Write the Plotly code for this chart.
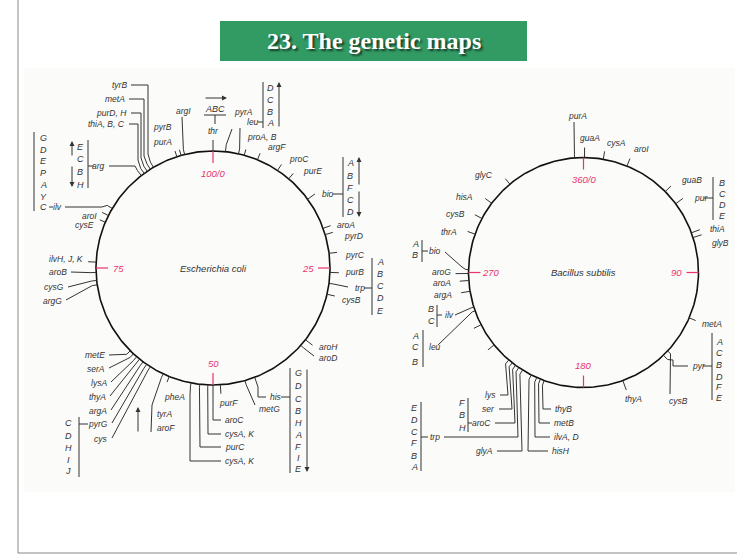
import numpy as np
import plotly.graph_objects as go

# ---------------- DATA ----------------
ECOLI_GENES = ["thr", "pyrA", "leu", "proA, B", "argF", "proC", "purE", "bio", "aroA", "pyrD",
               "pyrC", "purB", "trp", "cysB", "aroH", "aroD", "his", "metG", "purF", "aroC",
               "cysA, K", "purC", "cysA, K", "pheA", "tyrA", "aroF", "cys", "pyrG", "argA", "thyA",
               "lysA", "serA", "metE", "argG", "cysG", "aroB", "ilvH, J, K", "cysE", "aroI", "ilv",
               "arg", "thiA, B, C", "purD, H", "metA", "tyrB", "purA", "pyrB", "argI"]
ECOLI_MIN = [0.0, 1.7, 3.5, 4.3, 6.2, 9.3, 11.2, 15.0, 19.5, 20.4,
             23.0, 25.6, 27.1, 28.6, 35.5, 36.5, 44.2, 45.6, 49.0, 50.0,
             50.7, 51.8, 53.0, 56.1, 57.0, 57.3, 59.0, 59.6, 60.2, 60.8,
             61.3, 61.9, 62.5, 72.7, 73.3, 74.4, 75.8, 81.4, 82.4, 83.5,
             89.5, 90.0, 90.5, 91.0, 91.5, 95.0, 95.6, 96.1]
ECOLI_SCALE = [0, 25, 50, 75]
ECOLI_SCALE_LABELS = ["100/0", "25", "50", "75"]

BSU_GENES = ["purA", "guaA", "cysA", "aroI", "guaB", "pur", "thiA", "glyB", "metA", "cysB",
             "pyr", "thyA", "thyB", "metB", "ilvA, D", "hisH", "glyA", "trp", "aroC", "ser",
             "lys", "leu", "ilv", "argA", "aroA", "aroG", "bio", "thrA", "cysB", "hisA", "glyC"]
BSU_DEG = [355.6, 0.5, 9.9, 22.2, 45.3, 53.3, 69.8, 72.3, 113.2, 133.0,
           136.0, 160.0, 200.0, 202.0, 204.0, 207.0, 212.0, 214.2, 216.2, 218.3,
           220.5, 250.5, 252.5, 260.6, 266.0, 269.5, 271.5, 289.5, 298.0, 307.0, 320.2]
BSU_UNLABELED = [231.0, 243.0]
BSU_SCALE = [0, 90, 180, 270]
BSU_SCALE_LABELS = ["360/0", "90", "180", "270"]

# operon gene letters
EC_OPERON_LETTERS = {
    "thr": ["ABC"],
    "leu": ["D", "C", "B", "A"],
    "bio": ["A", "B", "F", "C", "D"],
    "trp": ["A", "B", "C", "D", "E"],
    "his": ["G", "D", "C", "B", "H", "A", "F", "I", "E"],
    "pyrG": ["C", "D", "H", "I", "J"],
    "arg": ["E", "C", "B", "H"],
    "ilv": ["G", "D", "E", "P", "A", "Y", "C"],
}
BS_OPERON_LETTERS = {
    "pur": ["B", "C", "D", "E"],
    "pyr": ["A", "C", "B", "D", "F", "E"],
    "bio": ["A", "B"],
    "ilv": ["B", "C"],
    "leu": ["A", "C", "B"],
    "aroC": ["F", "B", "H"],
    "trp": ["E", "D", "C", "F", "B", "A"],
}

TITLE = "23. The genetic maps"

# ---------------- LAYOUT (figure pixel placement) ----------------
EC_C = (213.0, 268.0, 117.0)
BS_C = (583.5, 272.5, 115.0)

# (tick length, label x, label y, anchor, leader points)
EC_LAY = [
    (11, 213, 131, "c", []),
    (7, 243, 112, "c", [(232, 129)]),
    (5, 245, 122, "l", [(240, 128)]),
    (6, 245, 137, "l", []),
    (7, 266, 147, "l", []),
    (7, 287, 159, "l", []),
    (7, 301, 171, "l", []),
    (9, 320, 194, "l", []),
    (8, 335, 225, "l", []),
    (8, 342, 236, "l", []),
    (8, 343, 255, "l", []),
    (9, 343, 272, "l", []),
    (4, 353, 288, "l", [(348, 287)]),
    (8, 340, 300, "l", []),
    (9, 317, 347, "l", []),
    (4, 317, 358, "l", [(314, 356)]),
    (4, 268, 397, "l", [(258, 387), (258, 397), (266, 397)]),
    (4, 257, 409, "l", [(255, 405)]),
    (9, 217, 403, "l", []),
    (3, 223, 420, "l", [(213, 420), (221, 420)]),
    (3, 223, 434, "l", [(208, 434), (221, 434)]),
    (3, 223, 447, "l", [(200, 447), (221, 447)]),
    (3, 223, 461, "l", [(190, 395), (190, 461), (221, 461)]),
    (6, 162, 397, "l", []),
    (4, 155, 414, "l", [(152, 405), (151, 432)]),
    (0, 155, 428, "l", []),
    (5, 110, 439, "r", [(112, 438)]),
    (5, 110, 424, "r", [(112, 423)]),
    (5, 109, 411, "r", [(111, 410)]),
    (5, 108, 397, "r", [(110, 396)]),
    (5, 109, 383, "r", [(111, 382)]),
    (5, 107, 369, "r", [(109, 368)]),
    (5, 107, 355, "r", [(109, 355)]),
    (5, 64, 301, "r", [(66, 300)]),
    (5, 66, 287, "r", [(68, 287)]),
    (6, 69, 272, "r", [(71, 272)]),
    (8, 85, 259, "r", []),
    (6, 96, 225, "r", []),
    (7, 99, 216, "r", []),
    (6, 64, 207, "r", [(102, 207), (65, 207)]),
    (6, 107, 166, "r", [(135, 166), (109, 166)]),
    (6, 127, 124, "r", [(138, 160), (138, 124), (129, 124)]),
    (6, 129, 113, "r", [(141, 158), (141, 113), (131, 113)]),
    (6, 127, 99, "r", [(144, 156), (144, 99), (129, 99)]),
    (6, 129, 85, "r", [(148, 154), (148, 85), (131, 85)]),
    (6, 174, 142, "r", []),
    (6, 174, 127, "r", []),
    (5, 183, 111, "c", [(182, 117)]),
]

BS_LAY = [
    (3, 577, 116, "c", [(574, 122)]),
    (10, 590, 138, "c", []),
    (8, 605, 143, "l", []),
    (8, 632, 149, "l", []),
    (8, 680, 180, "l", []),
    (9, 692, 198, "l", []),
    (9, 708, 229, "l", []),
    (9, 710, 243, "l", []),
    (7, 700, 324, "l", []),
    (4, 678, 401, "c", [(670, 394)]),
    (6, 690, 366, "l", [(673, 360), (673, 366), (688, 366)]),
    (10, 633, 399, "c", []),
    (5, 553, 409, "l", [(543, 409), (551, 409)]),
    (5, 552, 423, "l", [(539, 423), (550, 423)]),
    (5, 552, 437, "l", [(535, 437), (550, 437)]),
    (5, 550, 451, "l", [(528, 451), (548, 451)]),
    (5, 495, 451, "r", [(522, 451), (497, 451)]),
    (5, 442, 437, "r", [(518, 437), (444, 437)]),
    (5, 493, 423, "r", [(515, 423), (495, 423)]),
    (5, 497, 409, "r", [(512, 409), (499, 409)]),
    (5, 498, 395, "r", [(508, 395), (500, 395)]),
    (3, 427, 347, "l", [(438, 345)]),
    (3, 443, 315, "l", [(455, 315)]),
    (9, 454, 295, "r", []),
    (9, 453, 283, "r", []),
    (13, 453, 272, "r", []),
    (3, 443, 251, "r", [(462, 267), (445, 252)]),
    (8, 459, 232, "r", []),
    (8, 467, 214, "r", []),
    (8, 475, 197, "r", []),
    (7, 495, 175, "r", []),
]

# operon brackets: key -> (bracket x, y0, y1, letter x, letter ys, connector or None, arrows)
EC_OP_LAY = {
    "leu": (263, 82, 128, 270, [88, 100, 112, 123], ((258, 122), (263, 122)), [((279, 128), (279, 82))]),
    "bio": (343, 157, 217, 350, [163, 176, 188, 200, 212], ((333, 194), (343, 194)),
            [((359, 186), (359, 157)), ((359, 190), (359, 217))]),
    "trp": (372, 258, 315, 380, [262, 274, 286, 298, 311], ((364, 288), (372, 288)), []),
    "his": (290, 368, 473, 298, [373, 386, 399, 411, 423, 435, 447, 458, 469], ((281, 397), (290, 397)),
            [((307, 368), (307, 472))]),
    "pyrG": (79, 417, 477, 68, [423, 436, 448, 460, 471], ((79, 424), (88, 424)), []),
    "arg": (88, 140, 188, 80, [147, 159, 172, 185], ((88, 166), (94, 166)),
            [((72, 157), (72, 141)), ((72, 165), (72, 187))]),
    "ilv": (34, 132, 211, 43, [138, 150, 161, 173, 185, 197, 207], ((49, 207), (53, 207)), []),
}
BS_OP_LAY = {
    "pur": (713, 177, 220, 722, [183, 194, 205, 216], ((704, 198), (713, 198)), []),
    "pyr": (712, 333, 400, 719, [342, 353, 365, 377, 387, 398], ((703, 366), (712, 366)), []),
    "bio": (422, 240, 262, 415, [244, 255], ((422, 251), (428, 251)), []),
    "ilv": (437, 305, 327, 431, [309, 321], ((437, 315), (442, 315)), []),
    "leu": (423, 330, 367, 415, [336, 347, 362], None, []),
    "aroC": (468, 398, 432, 462, [403, 415, 428], ((468, 423), (472, 423)), []),
    "trp": (421, 402, 471, 414, [408, 420, 432, 443, 456, 467], ((421, 437), (428, 437)), []),
}

INK = "#333333"
RED = "#e8336e"
LFONT = dict(family="Liberation Sans, Arial, sans-serif", size=8.5, color=INK, style="italic")
OFONT = dict(LFONT, size=9)


def pt(c, rad, deg):
    a = np.deg2rad(deg)
    return c[0] + rad * np.sin(a), c[1] - rad * np.cos(a)


fig = go.Figure()
ann = []
lx, ly = [], []
rx, ry = [], []


def seg(points, X, Y):
    for p in points:
        X.append(p[0]); Y.append(p[1])
    X.append(None); Y.append(None)


def draw_map(c, names, degs, lay, scale, scale_labels, scale_factor, unl=()):
    th = np.linspace(0, 360, 361)
    cx = [pt(c, c[2], t)[0] for t in th]
    cy = [pt(c, c[2], t)[1] for t in th]
    fig.add_trace(go.Scatter(x=cx, y=cy, mode="lines", line=dict(color="#111111", width=1.6),
                             hoverinfo="skip", showlegend=False))
    for name, d, L in zip(names, degs, lay):
        tl, tx, ty, anc, lead = L
        ang = d * scale_factor
        pts = []
        if tl > 0:
            pts = [pt(c, c[2], ang), pt(c, c[2] + tl, ang)]
        pts += lead
        if len(pts) > 1:
            seg(pts, lx, ly)
        ann.append(dict(x=tx, y=ty, text=name, showarrow=False, font=LFONT,
                        xanchor={"l": "left", "r": "right", "c": "center"}[anc], yanchor="middle"))
    for d in unl:
        seg([pt(c, c[2], d * scale_factor), pt(c, c[2] + 8, d * scale_factor)], lx, ly)
    for s, lab in zip(scale, scale_labels):
        ang = s * scale_factor
        seg([pt(c, c[2], ang), pt(c, c[2] - 12, ang)], rx, ry)
        px, py = pt(c, c[2] - 22, ang)
        ann.append(dict(x=px, y=py, text=lab, showarrow=False,
                        font=dict(family="Liberation Sans, Arial, sans-serif", size=9.5, color=RED, style="italic"),
                        xanchor="center", yanchor="middle"))


def draw_operons(letters, lay):
    for key, lets in letters.items():
        if key not in lay:
            continue
        bx, y0, y1, tx, tys, conn, arrows = lay[key]
        seg([(bx, y0), (bx, y1)], lx, ly)
        if conn:
            seg(list(conn), lx, ly)
        for l, yy in zip(lets, tys):
            ann.append(dict(x=tx, y=yy, text=l, showarrow=False, font=OFONT,
                            xanchor="center", yanchor="middle"))
        for (t, h) in arrows:
            ann.append(dict(x=h[0], y=h[1], ax=t[0], ay=t[1], xref="x", yref="y", axref="x", ayref="y",
                            text="", showarrow=True, arrowhead=2, arrowsize=1, arrowwidth=1, arrowcolor=INK))


# background picture area
fig.add_shape(type="rect", x0=24, y0=68, x1=735, y1=492, line=dict(width=0), fillcolor="#fbfbf9", layer="below")

draw_map(EC_C, ECOLI_GENES, ECOLI_MIN, EC_LAY, ECOLI_SCALE, ECOLI_SCALE_LABELS, 3.6)
draw_map(BS_C, BSU_GENES, BSU_DEG, BS_LAY, BSU_SCALE, BSU_SCALE_LABELS, 1.0, BSU_UNLABELED)
draw_operons(EC_OPERON_LETTERS, EC_OP_LAY)
draw_operons(BS_OPERON_LETTERS, BS_OP_LAY)

# thr operon (ABC with arrow)
ann.append(dict(x=215, y=109, text=EC_OPERON_LETTERS["thr"][0], showarrow=False, font=OFONT,
                xanchor="center", yanchor="middle"))
seg([(204, 115), (226, 115)], lx, ly)
seg([(215, 115), (215, 124)], lx, ly)
ann.append(dict(x=227, y=98, ax=204, ay=98, xref="x", yref="y", axref="x", ayref="y", text="",
                showarrow=True, arrowhead=2, arrowsize=1, arrowwidth=1, arrowcolor=INK))
# tyrA arrow
ann.append(dict(x=138, y=407, ax=138, ay=433, xref="x", yref="y", axref="x", ayref="y", text="",
                showarrow=True, arrowhead=2, arrowsize=1, arrowwidth=1, arrowcolor=INK))

fig.add_trace(go.Scatter(x=lx, y=ly, mode="lines", line=dict(color=INK, width=1),
                         hoverinfo="skip", showlegend=False))
fig.add_trace(go.Scatter(x=rx, y=ry, mode="lines", line=dict(color=RED, width=1.2),
                         hoverinfo="skip", showlegend=False))

# centre names
CFONT = dict(LFONT, size=9.5)
ann.append(dict(x=EC_C[0], y=EC_C[1], text="Escherichia coli", showarrow=False, font=CFONT))
ann.append(dict(x=BS_C[0], y=BS_C[1], text="Bacillus subtilis", showarrow=False, font=CFONT))

# title box
fig.add_shape(type="rect", x0=220, y0=21, x1=527, y1=61, line=dict(width=0), fillcolor="#329a63")
ann.append(dict(x=374, y=41, text="<b>" + TITLE + "</b>", showarrow=False,
                font=dict(family="Liberation Serif, Times New Roman, serif", size=24, color="white",
                          shadow="2px 2px 2px #1a3d2a")))

# slide frame
fig.add_shape(type="line", x0=18, y0=0, x1=18, y1=553, line=dict(color="#888888", width=1))
fig.add_shape(type="line", x0=18, y0=553, x1=737, y1=553, line=dict(color="#888888", width=1))

fig.update_layout(
    width=737, height=558, margin=dict(l=0, r=0, t=0, b=0),
    paper_bgcolor="white", plot_bgcolor="white", showlegend=False,
    xaxis=dict(range=[0, 737], visible=False, fixedrange=True),
    yaxis=dict(range=[558, 0], visible=False, fixedrange=True),
    annotations=ann,
)
fig.write_html("out.html", config={"displayModeBar": False},
               post_script="document.body.style.margin='0';document.body.style.overflow='hidden';")
